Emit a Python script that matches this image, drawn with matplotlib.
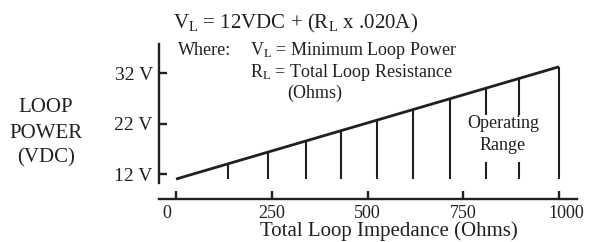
import matplotlib

matplotlib.use("Agg")
import matplotlib.pyplot as plt
import matplotlib.transforms as mtransforms

plt.rcParams["font.family"] = ["Liberation Serif", "DejaVu Serif"]
plt.rcParams["mathtext.fontset"] = "custom"
plt.rcParams["mathtext.rm"] = "Liberation Serif"
plt.rcParams["mathtext.it"] = "Liberation Serif:italic"

# values
impedance_ticks = [0, 250, 500, 750, 1000]
voltage_ticks = [12, 22, 32]
voltage_labels = ["12 V", "22 V", "32 V"]

line_ohms = [0, 1000]
line_volts = [11.0, 33.3]

bar_ohms = [135, 240, 340, 430, 525, 620, 715, 1000]
bar_tops = [14.0, 16.35, 18.6, 20.6, 22.7, 24.8, 26.9, 33.3]
range_ohms = [810, 895]
range_tops = [29.1, 31.0]
bar_base = 10.95
gap_low, gap_high = 14.4, 23.7

W, H = 590, 242
FS = 13
BIG = 15
INK = "#231f20"


def px(x, y):
    # pixel position measured from the top-left of the picture
    return x / W, 1 - y / H


fig = plt.figure(figsize=(W / 100, H / 100), dpi=100)
ax = fig.add_axes([159 / W, 1 - 199.3 / H, (577 - 159) / W, (199.3 - 44) / H])
ax.set_xlim(-44.4, 1047)
ax.set_ylim(6.98, 37.82)

for side in ("top", "right"):
    ax.spines[side].set_visible(False)
for side in ("left", "bottom"):
    ax.spines[side].set_linewidth(1.7)
    ax.spines[side].set_color(INK)
ax.spines["left"].set_bounds(10.15, 37.82)

ax.set_xticks(impedance_ticks)
ax.set_xticklabels([str(v) for v in impedance_ticks])
ax.set_yticks(voltage_ticks)
ax.set_yticklabels(voltage_labels)
ax.tick_params(axis="both", direction="in", length=6, width=1.7, color=INK,
               labelcolor=INK)
ax.tick_params(axis="x", pad=4, labelsize=FS)
ax.tick_params(axis="y", pad=4.5, labelsize=14)

# nudge the end labels outward like the original
labels = ax.get_xticklabels()
labels[0].set_transform(labels[0].get_transform() + mtransforms.ScaledTranslation(-9 / 100, 0, fig.dpi_scale_trans))
labels[-1].set_transform(labels[-1].get_transform() + mtransforms.ScaledTranslation(7 / 100, 0, fig.dpi_scale_trans))

ax.plot(line_ohms, line_volts, color=INK, lw=2.0, solid_capstyle="butt")
ax.vlines(bar_ohms, bar_base, bar_tops, color=INK, lw=1.5)
ax.vlines(range_ohms, bar_base, gap_low, color=INK, lw=1.5)
ax.vlines(range_ohms, gap_high, range_tops, color=INK, lw=1.5)

fig.text(*px(503, 128), "Operating", ha="center", va="baseline", fontsize=FS, color=INK)
fig.text(*px(503, 150), "Range", ha="center", va="baseline", fontsize=FS, color=INK)

fig.text(*px(172.7, 28.3), r"V$_{\rm L}$ = 12VDC + (R$_{\rm L}$ x .020A)",
         fontsize=BIG, color=INK, va="baseline")
fig.text(*px(178, 55), "Where:", fontsize=FS, color=INK, va="baseline")
fig.text(*px(250, 55), r"V$_{\rm L}$ = Minimum Loop Power", fontsize=FS, color=INK, va="baseline")
fig.text(*px(250, 76.7), r"R$_{\rm L}$ = Total Loop Resistance", fontsize=FS, color=INK, va="baseline")
fig.text(*px(287, 98), "(Ohms)", fontsize=FS, color=INK, va="baseline")

fig.text(*px(46, 111.7), "LOOP", fontsize=BIG, color=INK, ha="center", va="baseline")
fig.text(*px(46, 138), "POWER", fontsize=BIG, color=INK, ha="center", va="baseline")
fig.text(*px(46, 162), "(VDC)", fontsize=BIG, color=INK, ha="center", va="baseline")

fig.text(*px(389, 236), "Total Loop Impedance (Ohms)", fontsize=BIG, color=INK,
         ha="center", va="baseline")

fig.savefig("out.png", dpi=100, facecolor="white")
